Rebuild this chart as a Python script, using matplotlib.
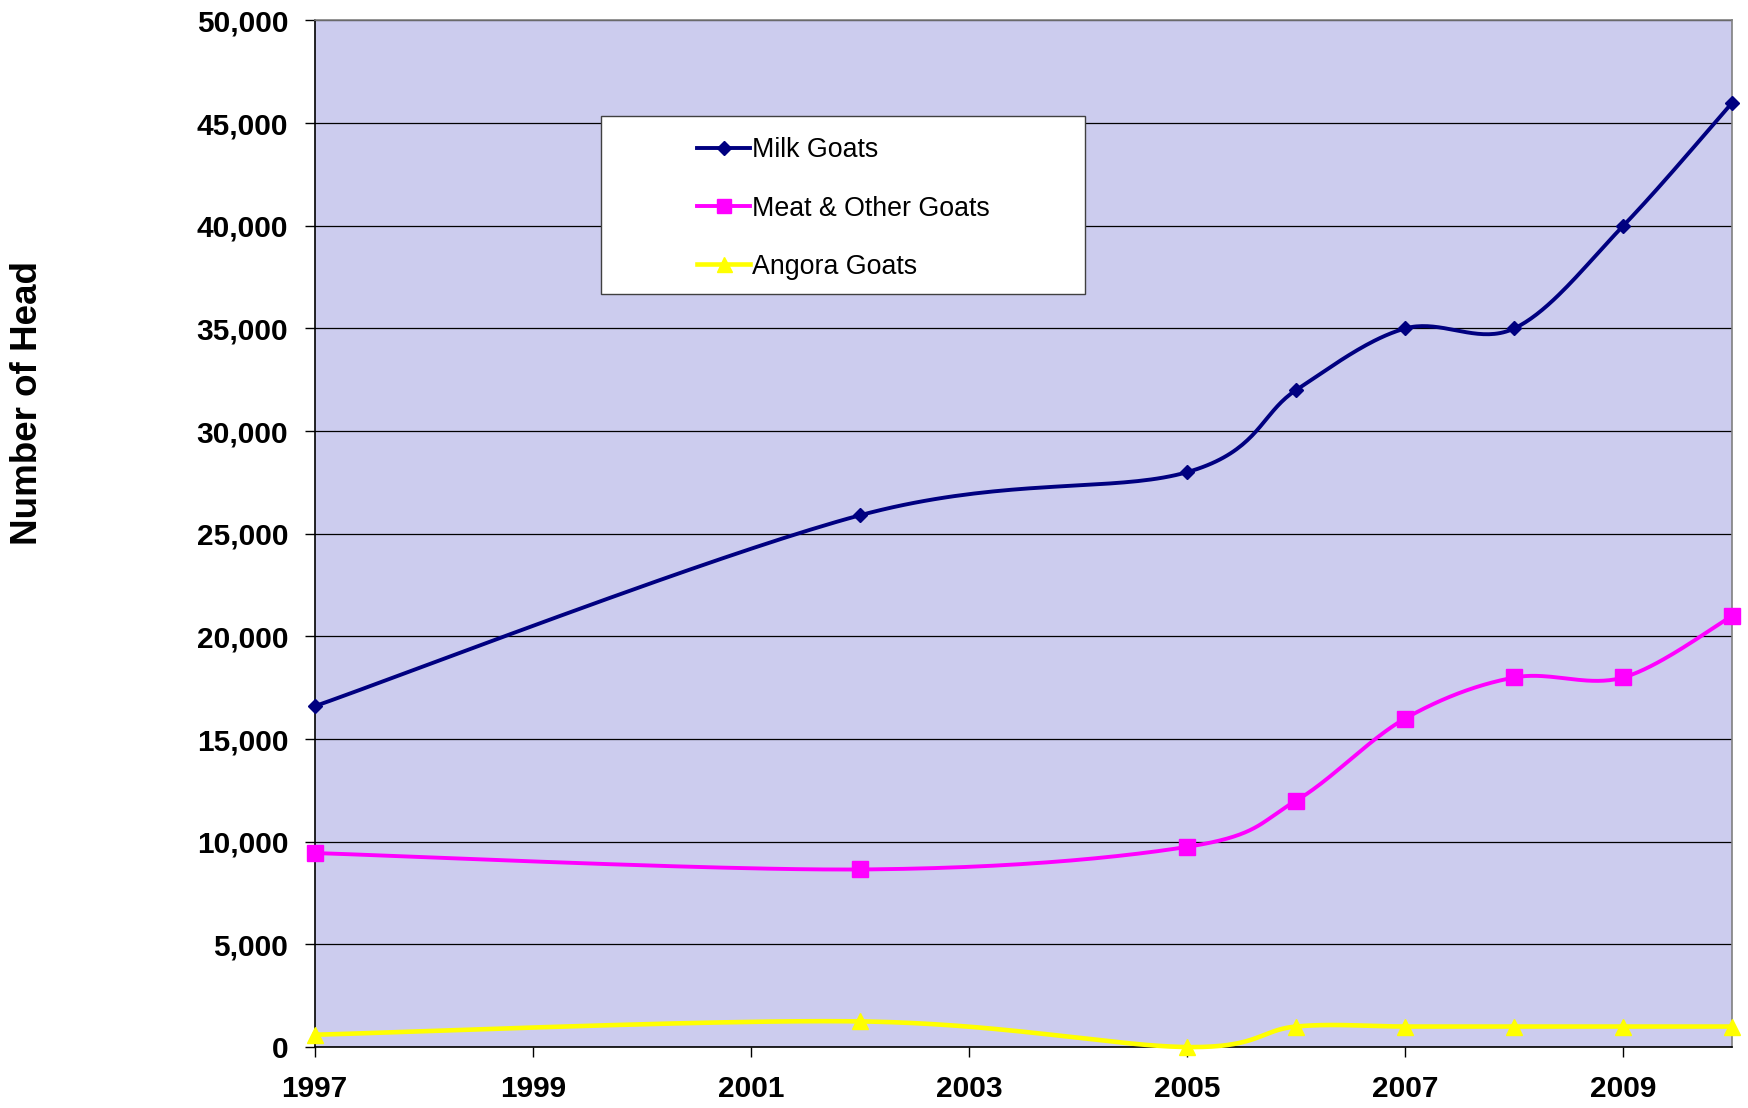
import matplotlib.pyplot as plt
import numpy as np
from matplotlib.patches import Rectangle
from matplotlib.ticker import FuncFormatter

plt.rcParams["font.family"] = ["Liberation Sans", "DejaVu Sans"]

years = [1997, 2002, 2005, 2006, 2007, 2008, 2009, 2010]
milk_goats = [16600, 25900, 28000, 32000, 35000, 35000, 40000, 46000]
meat_goats = [9450, 8650, 9750, 12000, 16000, 18000, 18000, 21000]
angora_goats = [600, 1250, 0, 1000, 1000, 1000, 1000, 1000]
series_names = ["Milk Goats", "Meat & Other Goats", "Angora Goats"]


def smooth(xs, ys, steps=40):
    # Excel-like smoothed line: Catmull-Rom style cubic Bezier segments
    pts = np.column_stack([xs, ys]).astype(float)
    n = len(pts)
    out = []
    for i in range(n - 1):
        p0 = pts[max(i - 1, 0)]
        p1 = pts[i]
        p2 = pts[i + 1]
        p3 = pts[min(i + 2, n - 1)]
        c1 = p1 + (p2 - p0) / 6.0
        c2 = p2 - (p3 - p1) / 6.0
        t = np.linspace(0, 1, steps)[:, None]
        seg = ((1 - t) ** 3) * p1 + 3 * ((1 - t) ** 2) * t * c1 \
            + 3 * (1 - t) * t ** 2 * c2 + t ** 3 * p2
        out.append(seg if i == 0 else seg[1:])
    out = np.vstack(out)
    return out[:, 0], out[:, 1]


fig = plt.figure(figsize=(17.48, 11.08), dpi=100)
ax = fig.add_axes([0.180, 0.055, 0.811, 0.9265])
ax.set_facecolor("#ccccee")

styles = [
    (milk_goats, "#000080", "D", 7.5, 2.8),
    (meat_goats, "#ff00ff", "s", 11, 2.8),
    (angora_goats, "#ffff00", "^", 12, 3.3),
]
handles = []
for (vals, color, marker, ms, lw), name in zip(styles, series_names):
    sx, sy = smooth(years, vals)
    ax.plot(sx, sy, color=color, lw=lw, zorder=3, clip_on=False)
    ax.plot(years, vals, linestyle="none", marker=marker, color=color,
            markersize=ms, zorder=4, clip_on=False)
    h, = ax.plot([], [], color=color, lw=lw, marker=marker, markersize=ms)
    handles.append(h)

ax.set_xlim(1997, 2010)
ax.set_ylim(0, 50000)
ax.set_xticks(range(1997, 2010, 2))
ax.set_yticks(range(0, 50001, 5000))
ax.yaxis.set_major_formatter(FuncFormatter(lambda v, p: f"{int(v):,}"))
ax.grid(axis="y", color="black", linewidth=0.9, zorder=1)
ax.set_axisbelow(True)

ax.tick_params(axis="both", direction="out", length=7, width=1, colors="black",
               labelsize=21.5)
ax.tick_params(axis="y", pad=12)
ax.tick_params(axis="x", pad=13)
for lbl in ax.get_xticklabels() + ax.get_yticklabels():
    lbl.set_fontweight("bold")

ax.spines["left"].set_color("black")
ax.spines["bottom"].set_color("black")
ax.spines["top"].set_color("#808080")
ax.spines["right"].set_color("#808080")
for s in ax.spines.values():
    s.set_linewidth(1.2)

fig.text(28 / 1748, 1 - 403 / 1108, "Number of Head", rotation=90,
         ha="center", va="center", fontsize=26.5, fontweight="bold")

# legend box drawn separately so the frame can be wider than its content
box = Rectangle((601 / 1748, 1 - 294 / 1108), (1085 - 601) / 1748,
                (294 - 116) / 1108, transform=fig.transFigure,
                facecolor="white", edgecolor="#404040", linewidth=1.0,
                zorder=5)
fig.patches.append(box)
leg = fig.legend(handles, series_names, loc="upper left",
                 bbox_to_anchor=(684 / 1748, 1 - 124 / 1108),
                 frameon=False, fontsize=19.3, handlelength=1.95,
                 handletextpad=0.1, labelspacing=1.2, borderpad=0,
                 markerscale=0.9)
leg.set_zorder(6)

fig.savefig("out.png", dpi=100)
